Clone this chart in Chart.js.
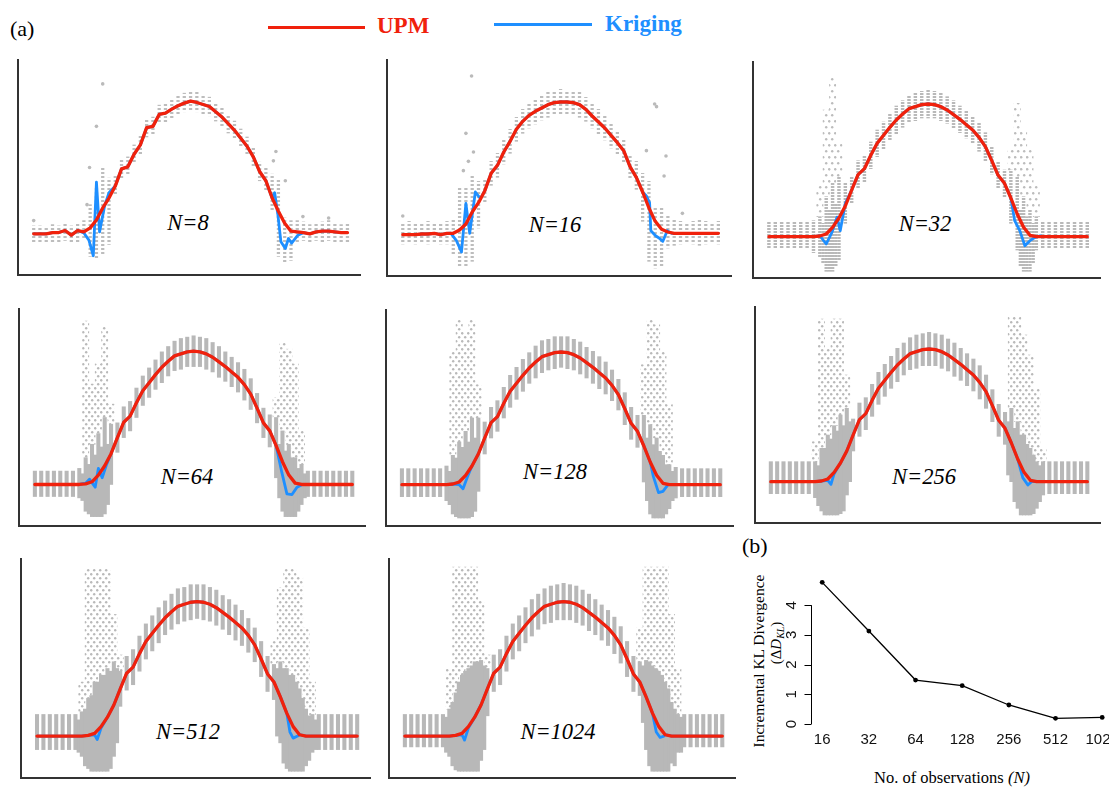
<!DOCTYPE html>
<html>
<head>
<meta charset="utf-8">
<script src="https://cdn.jsdelivr.net/npm/chart.js@4.4.0/dist/chart.umd.min.js"></script>
<style>
  body { margin: 0; width: 1109px; height: 788px; overflow: hidden; background: #fff; position: relative; font-family: 'Liberation Serif', 'Times New Roman', serif; }
  canvas { position: absolute; }
  .t { position: absolute; white-space: nowrap; line-height: 1; font-family: 'Liberation Serif', 'Times New Roman', serif; }
  .c { transform: translate(-50%, -50%); }
  .nlab { font-style: italic; font-size: 22.5px; color: #000; }
  .rot { transform: translate(-50%, -50%) rotate(-90deg); }
  .leg { position: absolute; height: 3px; }
</style>
</head>
<body>
<div class="t" style="left:10px;top:18px;font-size:22px;">(a)</div>
<div class="leg" style="left:268px;top:26px;width:97px;background:#f0210c;"></div>
<div class="t" style="left:377px;top:14px;font-size:23px;font-weight:bold;color:#f0210c;">UPM</div>
<div class="leg" style="left:494px;top:23px;width:98px;background:#1e8fff;"></div>
<div class="t" style="left:605px;top:12px;font-size:23px;font-weight:bold;color:#1e8fff;">Kriging</div>

<div class="t c nlab" style="left:188px;top:223px;">N=8</div>
<div class="t c nlab" style="left:555px;top:225px;">N=16</div>
<div class="t c nlab" style="left:925px;top:224px;">N=32</div>
<div class="t c nlab" style="left:187px;top:477px;">N=64</div>
<div class="t c nlab" style="left:555px;top:472px;">N=128</div>
<div class="t c nlab" style="left:924px;top:477px;">N=256</div>
<div class="t c nlab" style="left:188px;top:732px;">N=512</div>
<div class="t c nlab" style="left:558px;top:732px;">N=1024</div>

<div class="t" style="left:742px;top:535px;font-size:22px;">(b)</div>
<div class="t rot" style="left:759px;top:661px;font-size:15.5px;">Incremental KL Divergence</div>
<div class="t rot" style="left:776px;top:643px;font-size:15px;">(Δ<i>D</i><i style="font-size:10px;position:relative;top:3px;">KL</i>)</div>
<div class="t c" style="left:952px;top:778px;font-size:16.5px;">No. of observations <i>(N)</i></div>

<script>
// Values. Small panels: y in units where the flat
// baseline is 0 and the peak of the curve is ~100; x is the column index 0..50.
const upmN8 = [0,0,0,1,1,2.5,-1,2.5,1.5,4.5,10.5,19.5,27,36,49,50.5,60,67,80,81,90,91,94,96.5,98.5,100,99,97.5,96,92,88,83,78,72,66,58,47,40,27,17,8,2,1.5,1,0,1.5,2,2,1.5,1,1];
const upmN16 = [0,0,0,0.5,0.5,1,0,1,1,3.5,8,17,24,33,46,52,62,70,79,85,89.5,92.5,95,97.5,99,99.5,99.5,99,97.5,94,89,84.5,80,74.5,69,63,51,43,32,20,10,4,2,1,1,1,1,1,1,1,1];
// N >= 32: the UPM curve is the same smooth shape in every panel
const upmLarge = [0,0,0,0,0,0,0,0,0.5,2,7,14,23,35,46.5,51,61,70,76,82,87.5,92,96,97.5,99,99.5,99,97.5,95,91.5,88,84,80,74.5,67.5,57,46,40,29,17,7,1,0,0,0,0,0,0,0,0,0];

// Kriging departs from UPM near the two edges: [x, y] points
const krigLeftN8 = [[8,0.7],[8.8,-4.7],[9.5,-16.5],[10,39],[10.5,1.5],[11.3,21],[12,31]];
const krigRightN8 = [[38,27],[38.4,31],[38.9,15],[39.4,-6],[40.1,-11],[40.6,-3.5],[41.1,-7],[42.1,-1],[42.8,0.5]];
const krigLeftN16 = [[7.6,1.2],[8.5,-4.5],[9.3,-13],[10,23.5],[10.6,1],[11.5,32],[12.3,27]];
const krigRightN16 = [[38.6,29],[39.1,24],[39.3,3],[40.1,-1],[40.6,-2.5],[41.2,-5],[41.9,3],[42.6,1]];
const krigLeftN32 = [[8,0.7],[9,-5.5],[9.9,3.3],[10.7,14.6],[11.2,4.5],[12,25]];
const krigRightN32 = [[38.6,12],[39.4,4.5],[40.2,-6.8],[41,-3],[41.8,-0.5],[42.6,0.7]];
const krigLeftN64 = [[8,1],[8.6,4],[9.5,-2],[10,12],[10.6,5],[11.3,15]];
const krigRightN64 = [[38.9,9],[39.7,-7],[40.5,-7.5],[41.3,-2],[42.1,0]];
const krigLeftN128 = [[9,0],[9.6,-3],[10.3,6]];
const krigRightN128 = [[39.5,6],[40.3,-6],[41,-5],[41.8,0]];
const krigLeftN256 = [[9,1],[9.5,-2],[10,6]];
const krigRightN256 = [[39.8,3],[40.6,-2.5],[41.2,0]];
const krigLeftN512 = [[9,1],[9.4,-2.5],[10,6]];
const krigRightN512 = [[39.5,3],[40,-1.5],[40.7,0]];
const krigLeftN1024 = [[9,1],[9.4,-3],[10,6]];
const krigRightN1024 = [[39.6,3],[40.2,-1],[40.8,0]];

// grey observation columns: low / high end of each column
const dotLoN8 = [-7,-6,-7,-6,-6,-5,-7,-6,-3,-17,-19,-16,-8,29,42,44,53,60,73,74,83,84,87,90,92,93,92,90,89,85,81,76,71,65,59,51,40,32,17,-17,-22,-20,-7,-5,-6,-5,-6,-5,-6,-6,-6];
const dotHiN8 = [6,6,5,7,6,8,6,8,10,22,35,50,42,44,56,58,67,74,87,88,97,98,101,104,106,108,107,105,103,99,95,90,85,79,73,65,54,50,45,41,12,10,10,9,7,8,9,10,8,7,8];
const dotLoN16 = [-7,-6,-7,-6,-7,-6,-7,-7,-15,-24,-24,-20,5,24,37,43,53,61,70,76,80,83,86,88,90,90,90,90,88,85,80,75,71,65,60,54,42,34,10,-20,-25,-24,-10,-8,-7,-6,-7,-8,-7,-6,-7];
const dotHiN16 = [9,10,8,9,10,9,8,10,12,35,36,45,40,42,55,61,71,79,88,94,99,102,104,107,108,109,108,108,107,103,98,94,89,84,78,72,60,55,46,40,20,20,15,12,10,9,10,11,10,9,10];
const dotLoN32 = [-9,-9,-9,-9,-9,-9,-9,-12,-15,-26,-26,-18,10,25,36,41,51,60,66,72,77,82,86,87,89,89,89,87,85,81,78,74,70,64,57,47,36,30,10,-10,-26,-26,-10,-9,-9,-9,-9,-9,-9,-9,-9];
const dotHiN32 = [11,11,11,11,11,11,11,12,15,30,40,45,40,45,57,61,71,80,86,92,98,102,106,108,109,110,109,108,105,102,98,94,90,85,78,67,56,50,50,45,30,20,15,11,11,11,11,11,11,11,11];
const dotLoN64 = [-9,-9,-9,-9,-9,-9,-9,-10,-20,-24,-24,-22,0,24,35,40,50,59,65,71,76,81,85,86,88,88,88,86,84,80,77,73,69,63,56,46,35,28,5,-20,-24,-24,-15,-9,-9,-9,-9,-9,-9,-9,-9];
const dotHiN64 = [10,10,10,10,10,10,10,12,20,30,38,50,45,46,58,62,72,81,87,93,99,103,107,109,110,111,110,109,106,103,99,95,91,86,79,68,57,52,50,40,30,20,15,10,10,10,10,10,10,10,10];
const dotLoN128 = [-9,-9,-9,-9,-9,-9,-9,-12,-22,-25,-25,-24,-5,23,35,40,50,58,64,70,76,80,84,86,87,88,87,86,83,80,76,72,68,63,56,45,34,28,2,-22,-25,-25,-18,-10,-9,-9,-9,-9,-9,-9,-9];
const dotHiN128 = [12,12,12,12,12,12,12,14,22,32,40,50,50,47,58,63,73,82,88,94,99,104,108,109,111,111,111,109,107,103,100,96,92,86,79,69,58,52,52,45,35,22,15,13,12,12,12,12,12,12,12];
const dotLoN256 = [-9,-9,-9,-9,-9,-9,-9,-12,-22,-25,-25,-24,-10,23,34,39,49,58,64,70,75,80,84,85,87,87,87,85,83,79,76,72,68,62,55,45,34,28,0,-20,-25,-25,-20,-10,-9,-9,-9,-9,-9,-9,-9];
const dotHiN256 = [15,15,15,15,15,15,15,15,25,35,42,50,55,47,59,63,73,82,88,94,100,104,108,110,111,112,111,110,107,104,100,96,92,87,80,69,58,52,55,45,35,25,15,15,15,15,15,15,15,15,15];
const dotLoN512 = [-10,-10,-10,-10,-10,-10,-10,-15,-24,-26,-26,-26,-15,22,34,38,48,57,63,69,75,79,83,85,86,87,86,85,82,79,75,71,67,62,55,44,33,27,-5,-24,-26,-26,-22,-12,-10,-10,-10,-10,-10,-10,-10];
const dotHiN512 = [16,16,16,16,16,16,16,18,28,40,45,50,55,48,59,64,74,83,89,95,100,105,109,110,112,112,112,110,108,104,101,97,93,87,80,70,59,53,55,50,45,35,20,16,16,16,16,16,16,16,16];
const dotLoN1024 = [-8,-8,-8,-8,-8,-8,-8,-15,-25,-26,-26,-26,-18,15,33,38,48,57,63,69,74,79,83,84,86,86,86,84,82,78,75,71,67,61,54,44,33,30,-10,-26,-26,-26,-20,-12,-8,-8,-8,-8,-8,-8,-8];
const dotHiN1024 = [16,16,16,16,16,16,16,20,32,45,50,55,56,50,60,64,74,83,89,95,101,105,109,111,112,113,112,111,108,105,101,97,93,88,81,70,59,55,56,52,48,40,25,16,16,16,16,16,16,16,16];

// extra columns between the regular ones inside the two dense clusters: [x, low, high]
const midN32 = [[8.5,-20,10],[9.5,-26,20],[10.5,-22,25],[39.5,-22,20],[40.5,-26,15],[41.5,-20,10]];
const midN64 = [[7.5,-12,8],[8.5,-22,15],[9.5,-24,22],[10.5,-24,28],[11.5,-15,30],[38.5,-10,30],[39.5,-24,25],[40.5,-24,20],[41.5,-20,12],[42.5,-10,8]];
const midN128 = [[7.5,-15,10],[8.5,-24,20],[9.5,-25,28],[10.5,-25,32],[11.5,-20,35],[38.5,-12,35],[39.5,-25,30],[40.5,-25,25],[41.5,-22,15],[42.5,-12,10]];
const midN256 = [[7.5,-18,12],[8.5,-25,25],[9.5,-25,32],[10.5,-25,38],[11.5,-22,42],[12.5,0,45],[37.5,5,45],[38.5,-15,40],[39.5,-25,35],[40.5,-25,28],[41.5,-24,20],[42.5,-15,12]];
const midN512 = [[6.5,-12,12],[7.5,-22,20],[8.5,-26,30],[9.5,-26,40],[10.5,-26,45],[11.5,-24,48],[12.5,-5,50],[37.5,0,50],[38.5,-20,50],[39.5,-26,45],[40.5,-26,40],[41.5,-26,28],[42.5,-18,15],[43.5,-10,12]];
const midN1024 = [[6.5,-12,14],[7.5,-22,25],[8.5,-26,40],[9.5,-26,48],[10.5,-26,52],[11.5,-26,55],[12.5,-10,52],[37.5,10,52],[38.5,-22,55],[39.5,-26,50],[40.5,-26,45],[41.5,-26,35],[42.5,-22,20],[43.5,-12,14]];

// thin scatter above a column: [column, top of the sparse dots]
const sparseN32 = [[8,40],[9,95],[10,120],[11,70],[38,65],[39,100],[40,80],[41,65],[42,40]];
const sparseN64 = [[8,122],[9,75],[10,90],[11,118],[12,60],[38,65],[39,106],[40,101],[41,90],[42,40]];
const sparseN128 = [[8,100],[9,124],[10,115],[11,124],[12,75],[38,90],[39,124],[40,120],[41,100],[42,60]];
const sparseN256 = [[7,30],[8,122],[9,100],[10,122],[11,122],[12,80],[38,124],[39,124],[40,110],[41,95],[42,70],[43,25]];
const sparseN512 = [[7,40],[8,124],[9,124],[10,124],[11,124],[12,90],[13,60],[37,70],[38,110],[39,124],[40,124],[41,118],[42,80],[43,40]];
const sparseN1024 = [[7,50],[8,125],[9,125],[10,125],[11,125],[12,100],[13,60],[37,80],[38,125],[39,125],[40,125],[41,125],[42,90],[43,50]];

// lone dots in the sparse panels: [x, y]
const outlierN8 = [[11,113],[10,81],[8.9,50],[8.5,22],[38.6,62],[38.2,55],[40.1,40],[0,10],[47,12],[42.9,13]];
const outlierN16 = [[10.9,119],[10,76],[11.2,62],[9.6,48],[10.4,55],[39.9,98],[40.2,96],[38.6,63],[41.7,59],[41.4,44],[0,14],[44.3,16]];

// panel (b)
const nLabels = ['16','32','64','128','256','512','1024'];
const klTicks = [0, 1, 2, 3, 4];
const klDiv = [4.77, 3.13, 1.48, 1.29, 0.64, 0.19, 0.22];

// ---------------- drawing ----------------
const RED = '#f0210c', BLUE = '#1e8fff';
Chart.defaults.font.family = "'Liberation Sans', Arial, sans-serif";

function dotPattern(color, on, period) {
  const c = document.createElement('canvas');
  c.width = 1; c.height = period;
  const g = c.getContext('2d');
  g.fillStyle = color; g.fillRect(0, 0, 1, on);
  return g.createPattern(c, 'repeat');
}
// staggered dots, looks like loose scatter when it fills a wide bar
function scatterPattern(color, w, h) {
  const c = document.createElement('canvas');
  c.width = w; c.height = h;
  const g = c.getContext('2d');
  g.fillStyle = color;
  g.beginPath(); g.arc(1.2, 1.2, 1.2, 0, 2 * Math.PI); g.fill();
  g.beginPath(); g.arc(w / 2 + 1.2, h / 2 + 1.2, 1.2, 0, 2 * Math.PI); g.fill();
  return g.createPattern(c, 'repeat');
}

function krigPoints(upm, left, right) {
  const a = left[0][0], b = left[left.length - 1][0];
  const c = right[0][0], d = right[right.length - 1][0];
  const pts = [];
  upm.forEach(function (v, i) { if (i < a) pts.push({ x: i, y: v }); });
  left.forEach(function (p) { pts.push({ x: p[0], y: p[1] }); });
  upm.forEach(function (v, i) { if (i > b && i < c) pts.push({ x: i, y: v }); });
  right.forEach(function (p) { pts.push({ x: p[0], y: p[1] }); });
  upm.forEach(function (v, i) { if (i > d) pts.push({ x: i, y: v }); });
  return pts;
}

const looks = {
  sparse: { bar: 2.6, fill: dotPattern('#bdbdbd', 2, 4), thin: '#ccc', thinBar: 2 },
  mid:    { bar: 2.8, fill: dotPattern('#b9b9b9', 2, 3), thin: scatterPattern('#bcbcbc', 6, 12), thinBar: 6.3 },
  dense:  { bar: 3.4, fill: '#b8b8b8', thin: scatterPattern('#b9b9b9', 6, 8), thinBar: 6.3 }
};

const panels = [
  { box: [17, 58, 362, 276], upm: upmN8, kL: krigLeftN8, kR: krigRightN8, lo: dotLoN8, hi: dotHiN8, mid: [], sparse: [], extra: outlierN8, look: 'sparse' },
  { box: [386, 58, 733, 277], upm: upmN16, kL: krigLeftN16, kR: krigRightN16, lo: dotLoN16, hi: dotHiN16, mid: [], sparse: [], extra: outlierN16, look: 'sparse' },
  { box: [753, 62, 1100, 278], upm: upmLarge, kL: krigLeftN32, kR: krigRightN32, lo: dotLoN32, hi: dotHiN32, mid: midN32, sparse: sparseN32, extra: [], look: 'mid' },
  { box: [19, 309, 365, 526], upm: upmLarge, kL: krigLeftN64, kR: krigRightN64, lo: dotLoN64, hi: dotHiN64, mid: midN64, sparse: sparseN64, extra: [], look: 'dense' },
  { box: [386, 310, 733, 526], upm: upmLarge, kL: krigLeftN128, kR: krigRightN128, lo: dotLoN128, hi: dotHiN128, mid: midN128, sparse: sparseN128, extra: [], look: 'dense' },
  { box: [755, 307, 1100, 523], upm: upmLarge, kL: krigLeftN256, kR: krigRightN256, lo: dotLoN256, hi: dotHiN256, mid: midN256, sparse: sparseN256, extra: [], look: 'dense' },
  { box: [21, 559, 370, 778], upm: upmLarge, kL: krigLeftN512, kR: krigRightN512, lo: dotLoN512, hi: dotHiN512, mid: midN512, sparse: sparseN512, extra: [], look: 'dense' },
  { box: [389, 559, 735, 778], upm: upmLarge, kL: krigLeftN1024, kR: krigRightN1024, lo: dotLoN1024, hi: dotHiN1024, mid: midN1024, sparse: sparseN1024, extra: [], look: 'dense' }
];

function addCanvas(left, top, w, h) {
  const cv = document.createElement('canvas');
  cv.width = w; cv.height = h;
  cv.style.left = left + 'px'; cv.style.top = top + 'px';
  cv.style.width = w + 'px'; cv.style.height = h + 'px';
  document.body.appendChild(cv);
  return cv;
}

function drawPanel(p) {
  const pad = { left: 3, right: 2, top: 2, bottom: 3 };
  const w = p.box[2] - p.box[0] + pad.left + pad.right;
  const h = p.box[3] - p.box[1] + pad.top + pad.bottom;
  const cv = addCanvas(p.box[0] - pad.left, p.box[1] - pad.top, w, h);
  const look = looks[p.look];
  const datasets = [
    { type: 'line', data: p.upm.map(function (v, i) { return { x: i, y: v }; }), borderColor: RED, borderWidth: 3.3, pointRadius: 0, borderJoinStyle: 'round', borderCapStyle: 'round', order: 0 },
    { type: 'line', data: krigPoints(p.upm, p.kL, p.kR), borderColor: BLUE, borderWidth: 2.8, pointRadius: 0, borderJoinStyle: 'round', order: 1 },
    { type: 'bar', data: p.lo.map(function (v, i) { return { x: i, y: [v, p.hi[i]] }; }), backgroundColor: look.fill, barThickness: look.bar, grouped: false, order: 4 },
    { type: 'bar', data: p.mid.map(function (m) { return { x: m[0], y: [m[1], m[2]] }; }), backgroundColor: look.fill, barThickness: look.bar, grouped: false, order: 4 },
    { type: 'bar', data: p.sparse.map(function (s) { return { x: s[0], y: [p.hi[s[0]], s[1]] }; }), backgroundColor: look.thin, barThickness: look.thinBar, grouped: false, order: 5 },
    { type: 'line', data: p.extra.map(function (e) { return { x: e[0], y: e[1] }; }), showLine: false, pointRadius: 1.8, pointBackgroundColor: '#bababa', pointBorderWidth: 0, order: 3 }
  ];
  new Chart(cv, {
    type: 'bar',
    data: { datasets: datasets },
    options: {
      responsive: false, animation: false, devicePixelRatio: 1,
      layout: { padding: pad },
      plugins: { legend: { display: false }, tooltip: { enabled: false } },
      scales: {
        x: { type: 'linear', min: -2.5, max: 52, offset: false, ticks: { display: false }, grid: { display: false, drawTicks: false }, border: { display: true, color: '#333', width: 2 } },
        y: { type: 'linear', min: -31, max: 131, ticks: { display: false }, grid: { display: false, drawTicks: false }, border: { display: true, color: '#333', width: 2 } }
      }
    }
  });
}
panels.forEach(drawPanel);

// ---------------- panel (b) ----------------
// R-style left axis: line only from the first to the last tick, labels parallel to the axis
const rAxis = {
  id: 'rAxis',
  afterDraw: function (chart) {
    const y = chart.scales.y, ctx = chart.ctx;
    const x = Math.round(chart.chartArea.left) + 0.5;
    ctx.save();
    ctx.strokeStyle = '#000'; ctx.lineWidth = 1;
    ctx.beginPath();
    ctx.moveTo(x, y.getPixelForValue(klTicks[0]));
    ctx.lineTo(x, y.getPixelForValue(klTicks[klTicks.length - 1]));
    klTicks.forEach(function (t) {
      const py = Math.round(y.getPixelForValue(t)) + 0.5;
      ctx.moveTo(x, py); ctx.lineTo(x - 7, py);
    });
    ctx.stroke();
    ctx.fillStyle = '#111';
    ctx.font = "15px 'Liberation Sans', Arial, sans-serif";
    ctx.textAlign = 'center'; ctx.textBaseline = 'bottom';
    klTicks.forEach(function (t) {
      ctx.save();
      ctx.translate(x - 12, y.getPixelForValue(t));
      ctx.rotate(-Math.PI / 2);
      ctx.fillText(String(t), 0, 0);
      ctx.restore();
    });
    ctx.restore();
  }
};

const cvB = addCanvas(740, 560, 400, 228);
new Chart(cvB, {
  type: 'line',
  data: { datasets: [{ data: klDiv.map(function (v, i) { return { x: i, y: v }; }), borderColor: '#000', borderWidth: 1.3, pointRadius: 2.4, pointBackgroundColor: '#000', pointBorderWidth: 0, tension: 0 }] },
  options: {
    responsive: false, animation: false, devicePixelRatio: 1,
    layout: { padding: { left: 0, right: 26.6, top: 17, bottom: 0 } },
    plugins: { legend: { display: false }, tooltip: { enabled: false } },
    scales: {
      x: {
        type: 'linear', min: -0.24, max: 6.24,
        afterFit: function (s) { s.height = 64; },
        ticks: { stepSize: 1, includeBounds: false, autoSkip: false, maxRotation: 0, padding: 7, color: '#111', font: { size: 15 },
          callback: function (v) { return nLabels[v] === undefined ? '' : nLabels[v]; } },
        grid: { display: false, drawTicks: false }, border: { display: false }
      },
      y: {
        type: 'linear', min: 0, max: 4.95,
        afterFit: function (s) { s.width = 71; },
        ticks: { display: false, stepSize: 1, includeBounds: false },
        grid: { display: false, drawTicks: false },
        border: { display: false }
      }
    }
  },
  plugins: [rAxis]
});
</script>
</body>
</html>
